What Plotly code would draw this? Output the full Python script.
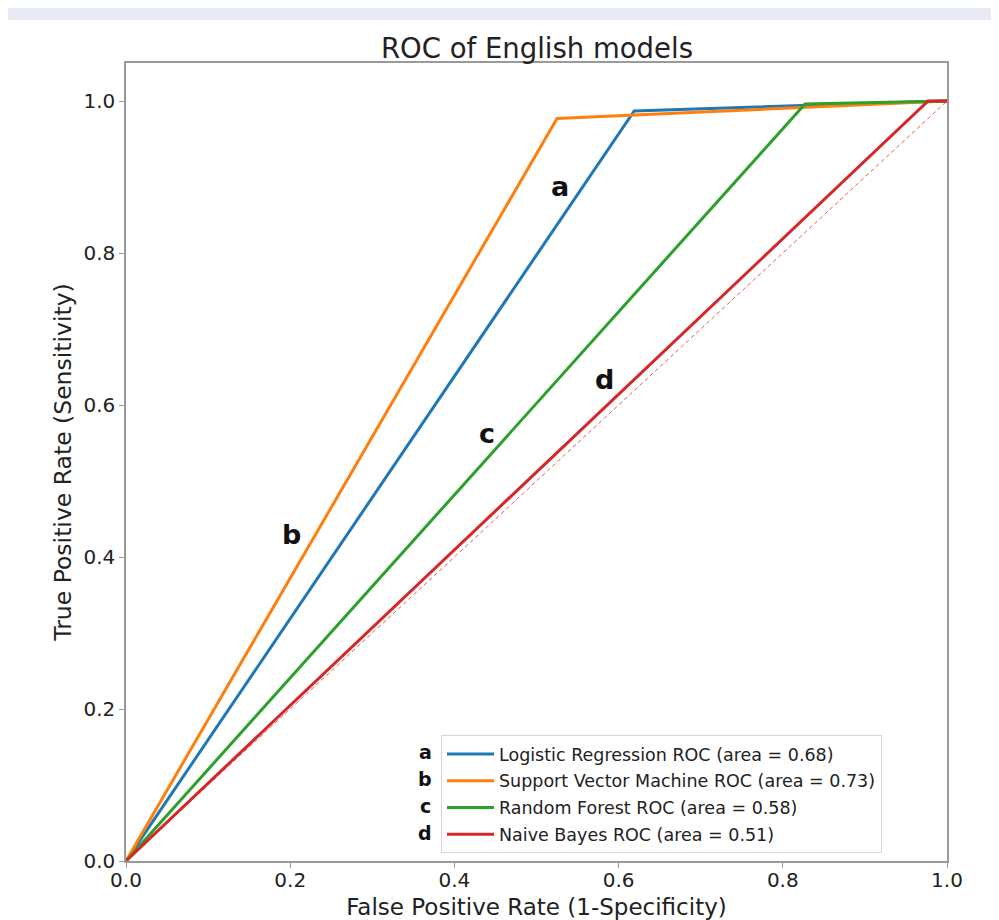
import plotly.graph_objects as go

# ---------------- data ----------------
model_names = [
    "Logistic Regression ROC (area = 0.68)",
    "Support Vector Machine ROC (area = 0.73)",
    "Random Forest ROC (area = 0.58)",
    "Naive Bayes ROC (area = 0.51)",
]
model_letters = ["a", "b", "c", "d"]
model_colors = ["#1f77b4", "#ff7f0e", "#2ca02c", "#d62728"]

fpr_lr = [0.0, 0.619, 1.0]
tpr_lr = [0.0, 0.987, 1.0]
fpr_svm = [0.0, 0.525, 1.0]
tpr_svm = [0.0, 0.977, 1.0]
fpr_rf = [0.0, 0.827, 1.0]
tpr_rf = [0.0, 0.996, 1.0]
fpr_nb = [0.0, 0.977, 1.0]
tpr_nb = [0.0, 1.0, 1.0]

chance_x = [0.0, 1.0]
chance_y = [0.0, 1.0]

# curve label positions (data coords)
label_x = [0.529, 0.202, 0.440, 0.583]
label_y = [0.888, 0.429, 0.562, 0.633]

tick_vals = [0.0, 0.2, 0.4, 0.6, 0.8, 1.0]
tick_text = ["0.0", "0.2", "0.4", "0.6", "0.8", "1.0"]

fprs = [fpr_lr, fpr_svm, fpr_rf, fpr_nb]
tprs = [tpr_lr, tpr_svm, tpr_rf, tpr_nb]

# ---------------- layout geometry (page pixels, minus body offset) ----------------
OFF = 8  # the html body margin
W, H = 999 - OFF, 920 - OFF
PL, PR, PT, PB = 126 - OFF, 947 - OFF, 63 - OFF, 861 - OFF  # plot area edges


def px_x(px):
    return (px - OFF - PL) / (PR - PL)


def px_y(py):
    return (PB - (py - OFF)) / (PB - PT)


FONT = "DejaVu Sans"
BAND = "#e8ebf6"

fig = go.Figure()

for i in range(4):
    fig.add_trace(go.Scatter(
        x=fprs[i], y=tprs[i], mode="lines",
        line=dict(color=model_colors[i], width=3),
        name=model_names[i], legendgroup=model_letters[i],
        showlegend=True,
    ))

fig.add_trace(go.Scatter(
    x=chance_x, y=chance_y, mode="lines",
    line=dict(color="rgba(214,39,40,0.75)", width=1, dash="4px,3px"),
    showlegend=False,
))

annotations = []
for i in range(4):
    annotations.append(dict(
        x=label_x[i], y=label_y[i], xref="x", yref="y",
        text="<b>%s</b>" % model_letters[i], showarrow=False,
        font=dict(family=FONT, size=27, color="#111"),
    ))

# letters next to legend rows (page pixels)
legend_rows_px = [752, 779, 806, 833]
for i in range(4):
    annotations.append(dict(
        x=px_x(425), y=px_y(legend_rows_px[i]), xref="paper", yref="paper",
        text="<b>%s</b>" % model_letters[i], showarrow=False,
        font=dict(family=FONT, size=19, color="#111"),
        xanchor="center", yanchor="middle",
    ))

shapes = [
    # top band (page y 8..20)
    dict(type="rect", xref="paper", yref="paper",
         x0=px_x(0), x1=px_x(1100), y0=px_y(20), y1=px_y(0),
         fillcolor=BAND, line=dict(width=0), layer="below"),
]

axis_common = dict(
    showgrid=False, zeroline=False, showline=True, mirror=True,
    linecolor="#9a9a9a", linewidth=1.5,
    ticks="outside", ticklen=5, tickcolor="#9a9a9a", tickwidth=1.2,
    tickvals=tick_vals, ticktext=tick_text,
    tickfont=dict(family=FONT, size=20, color="#222"),
    automargin=False,
)

fig.update_layout(
    width=W, height=H,
    margin=dict(l=PL, r=W - PR, t=PT, b=H - PB, pad=0, autoexpand=False),
    paper_bgcolor="white", plot_bgcolor="white",
    title=dict(text="ROC of English models", x=px_x(537), xref="paper",
               y=1 - (48 - OFF) / H, yref="container", xanchor="center", yanchor="middle",
               font=dict(family=FONT, size=27.5, color="#222")),
    xaxis=dict(range=[0, 1], **axis_common, ticklabelstandoff=-5,
               title=dict(text="False Positive Rate (1-Specificity)",
                          font=dict(family=FONT, size=23, color="#222"),
                          standoff=8)),
    yaxis=dict(range=[0, 1.05], **axis_common,
               title=dict(text="True Positive Rate (Sensitivity)",
                          font=dict(family=FONT, size=23.5, color="#222"),
                          standoff=5)),
    legend=dict(
        x=px_x(882), y=px_y(853), xanchor="right", yanchor="bottom",
        bgcolor="rgba(255,255,255,0.85)", bordercolor="#d6d6d6", borderwidth=1,
        font=dict(family=FONT, size=17.5, color="#222"),
        tracegroupgap=1, itemwidth=47,
    ),
    annotations=annotations,
    shapes=shapes,
    showlegend=True,
)

fig.write_html("out.html")
